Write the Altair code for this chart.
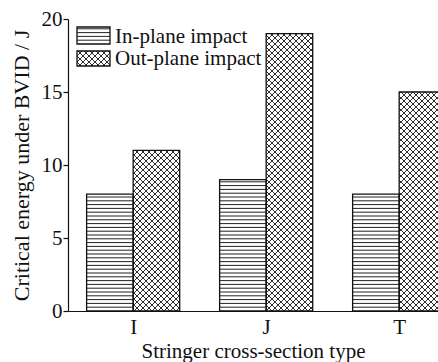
import math
import altair as alt
import pandas as pd

# ---- data ----
categories = ["I", "J", "T"]
series = ["In-plane impact", "Out-plane impact"]
in_plane = [8, 9, 8]
out_plane = [11, 19, 15]

# ---- layout / style constants ----
W, H = 370, 292
STEP = 133.0               # pixels per category
XMIN = -0.49
XMAX = XMIN + W / STEP
YMAX = 20
KY = H / YMAX
BAR = 0.35                 # bar width in category units
FONT = "Liberation Serif"
FS = 21
INK = "#111111"


def px_x(v):
    return (v - XMIN) * STEP


def from_px(xp, yp):
    return XMIN + xp / STEP, yp / KY


def hstripes(x0, x1, y0, y1, gap=3.8):
    segs = []
    y = y0 + gap
    while y < y1 - 1.2:
        segs.append((x0, y, x1, y))
        y += gap
    return segs


def crosshatch(x0, x1, y0, y1, gap=6.0):
    segs = []
    # slope +1 : y = x - c
    c = math.ceil((x0 - y1) / gap) * gap
    while c <= x1 - y0:
        lo, hi = max(x0, y0 + c), min(x1, y1 + c)
        if hi - lo > 0.3:
            segs.append((lo, lo - c, hi, hi - c))
        c += gap
    # slope -1 : y = c - x
    c = math.ceil((x0 + y0) / gap) * gap
    while c <= x1 + y1:
        lo, hi = max(x0, c - y1), min(x1, c - y0)
        if hi - lo > 0.3:
            segs.append((lo, c - lo, hi, c - hi))
        c += gap
    return segs


rect_rows, stripe_rows, cross_rows = [], [], []


def add_rect(x0p, x1p, y0p, y1p, kind):
    a = from_px(x0p, y0p)
    b = from_px(x1p, y1p)
    rect_rows.append({"xs": a[0], "xe": b[0], "ys": b[1], "ye": a[1], "kind": kind})
    if kind == series[0]:
        segs = hstripes(x0p, x1p, y0p, y1p)
        target = stripe_rows
    else:
        segs = crosshatch(x0p, x1p, y0p, y1p)
        target = cross_rows
    for (xa, ya, xb, yb) in segs:
        p = from_px(xa, ya)
        q = from_px(xb, yb)
        target.append({"xs": p[0], "ys": p[1], "xe": q[0], "ye": q[1]})


for i, cat in enumerate(categories):
    add_rect(px_x(i - BAR), px_x(i), 0, in_plane[i] * KY, series[0])
    add_rect(px_x(i), px_x(i + BAR), 0, out_plane[i] * KY, series[1])

# legend swatches (plot-relative pixels, y measured upward)
LEG_X0, LEG_X1 = 9, 42
add_rect(LEG_X0, LEG_X1, H - 25, H - 8, series[0])
add_rect(LEG_X0, LEG_X1, H - 47, H - 32, series[1])
LEG_TEXT_Y = [24, 46]

rects = pd.DataFrame(rect_rows)
stripes = pd.DataFrame(stripe_rows)
cross = pd.DataFrame(cross_rows)

xsc = alt.Scale(domain=[XMIN, XMAX], nice=False, zero=False)
ysc = alt.Scale(domain=[0, YMAX], nice=False, zero=True)

label_expr = "[" + ",".join("'" + c + "'" for c in categories) + "][round(datum.value)]"

xax = alt.Axis(
    values=list(range(len(categories))), labelExpr=label_expr, ticks=False, grid=False,
    domainColor=INK, domainWidth=1.2, labelFont=FONT, labelFontSize=FS, labelColor=INK,
    labelPadding=5, labelFlush=False, labelOverlap=False,
    title="Stringer cross-section type", titleFont=FONT, titleFontSize=FS,
    titleFontWeight="normal", titleColor=INK, titleX=W / 2, titleY=46,
    titleAlign="center", titleBaseline="alphabetic",
)
yax = alt.Axis(
    values=[0, 5, 10, 15, 20], grid=False, tickSize=5, tickColor=INK, tickWidth=1.2,
    domainColor=INK, domainWidth=1.2, labelFont=FONT, labelFontSize=FS, labelColor=INK,
    labelPadding=1, labelFlush=False, labelOverlap=False,
    title="Critical energy under BVID / J", titleFont=FONT, titleFontSize=22,
    titleFontWeight="normal", titleColor=INK, titleX=-47, titleY=H / 2,
    titleAngle=270, titleAlign="center", titleBaseline="middle",
)

enc = dict(
    x=alt.X("xs:Q", scale=xsc, axis=xax),
    x2="xe:Q",
    y=alt.Y("ys:Q", scale=ysc, axis=yax),
    y2="ye:Q",
)

base_fill = alt.Chart(rects).mark_rect(fill="white", clip=True).encode(**enc)
stripe_layer = alt.Chart(stripes).mark_rule(clip=True, color="#222222", strokeWidth=1).encode(**enc)
cross_layer = alt.Chart(cross).mark_rule(clip=True, color="#222222", strokeWidth=0.95).encode(**enc)
outline = alt.Chart(rects).mark_rect(
    fill="white", fillOpacity=0, stroke=INK, strokeWidth=1.3, clip=True
).encode(**enc)

texts = []
for i, lab in enumerate(series):
    texts.append(
        alt.Chart(pd.DataFrame({"t": [lab]})).mark_text(
            align="left", baseline="alphabetic", font=FONT, fontSize=FS, color=INK
        ).encode(text="t:N", x=alt.value(LEG_X1 + 5), y=alt.value(LEG_TEXT_Y[i]))
    )

chart = alt.layer(base_fill, stripe_layer, cross_layer, outline, *texts).properties(
    width=W,
    height=H,
    autosize=alt.AutoSizeParams(type="none"),
    padding={"left": 68, "top": 19, "right": 0, "bottom": 51},
    background="white",
).configure_view(strokeWidth=0)

chart.save("out.html", embed_options={"renderer": "svg", "actions": False})
